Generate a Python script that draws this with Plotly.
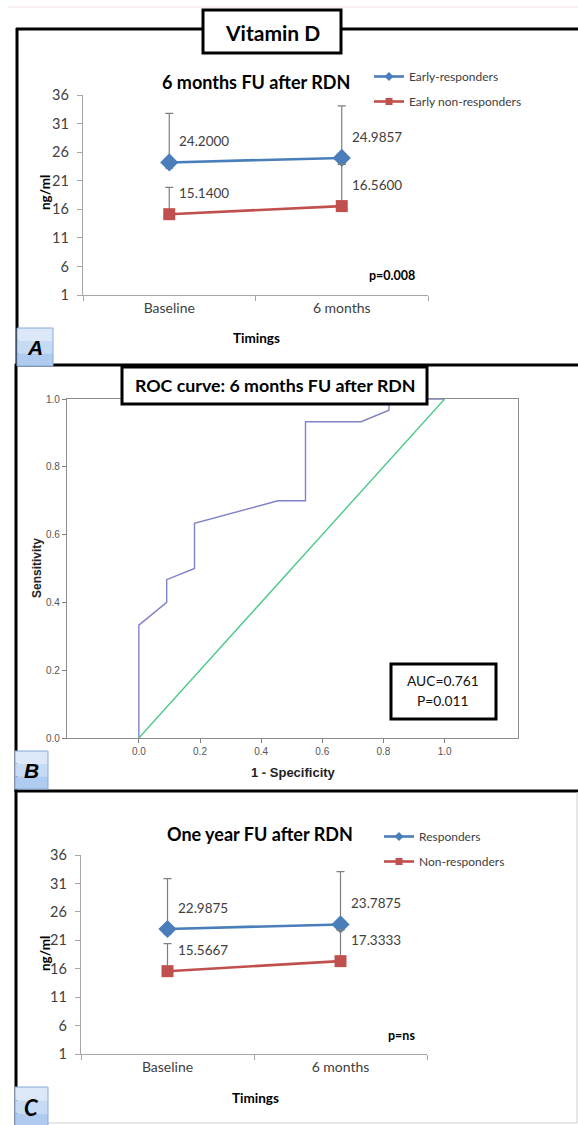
import plotly.graph_objects as go

W, H = 578, 1125

# ---------------- data ----------------
timings = ["Baseline", "6 months"]

a_resp = [24.2000, 24.9857]
a_resp_plus = [8.6, 9.1]
a_resp_minus = [1.0, 1.1]
a_non = [15.1400, 16.5600]
a_non_plus = [4.7, 7.3]
a_non_minus = [0.0, 0.0]

c_resp = [22.9875, 23.7875]
c_resp_plus = [8.85, 9.3]
c_resp_minus = [0.9, 0.95]
c_non = [15.5667, 17.3333]
c_non_plus = [4.85, 5.5]
c_non_minus = [0.0, 0.0]

roc_fpr = [0.0, 0.0, 0.091, 0.091, 0.182, 0.182, 0.455, 0.545, 0.545, 0.727, 0.818, 0.818, 1.0]
roc_tpr = [0.0, 0.333, 0.4, 0.467, 0.5, 0.633, 0.7, 0.7, 0.933, 0.933, 0.967, 1.0, 1.0]
ref_x = [0.0, 1.0]
ref_y = [0.0, 1.0]

vit_ticks = [1, 6, 11, 16, 21, 26, 31, 36]
roc_ticks = [0.0, 0.2, 0.4, 0.6, 0.8, 1.0]


def X(px):
    return px / W


def Y(py):
    return 1 - py / H


BLUE = "#4a7ebb"
RED = "#c0504d"
GRAY_TXT = "#404040"
CAL = "Lato"
ARIAL = "Liberation Sans"

fig = go.Figure()


def add_pair(xa, ya, legend, names, resp, rp, rm, non, npl, nm):
    specs = [(resp, rp, rm, BLUE, "diamond", 14, 7, names[0]),
             (non, npl, nm, RED, "square", 12, 7, names[1])]
    for k, (vals, plus, minus, col, sym, size, lsize, nm_) in enumerate(specs):
        fig.add_trace(go.Scatter(
            x=timings, y=vals, xaxis=xa, yaxis=ya, showlegend=False,
            mode="lines+markers",
            line=dict(color=col, width=2.6),
            marker=dict(symbol=sym, size=size, color=col),
            error_y=dict(type="data", array=plus, arrayminus=minus, color="#7f7f7f",
                         thickness=1.2, width=4),
        ))
        # legend-only entry (small marker as in the original legend)
        fig.add_trace(go.Scatter(
            x=[None], y=[None], xaxis=xa, yaxis=ya, name=nm_, legend=legend,
            legendgroup=legend + str(k), mode="lines+markers",
            line=dict(color=col, width=2.6),
            marker=dict(symbol=sym, size=lsize, color=col),
        ))
    for series in (resp, non):
        for t, v in zip(timings, series):
            fig.add_annotation(x=t, y=v, xref=xa, yref=ya, text=f"{v:.4f}",
                               showarrow=False, xanchor="left", yanchor="middle",
                               xshift=8, yshift=21,
                               font=dict(family=CAL, size=13.5, color=GRAY_TXT))


add_pair("x", "y", "legend", ["Early-responders", "Early non-responders"],
         a_resp, a_resp_plus, a_resp_minus, a_non, a_non_plus, a_non_minus)
add_pair("x3", "y3", "legend2", ["Responders", "Non-responders"],
         c_resp, c_resp_plus, c_resp_minus, c_non, c_non_plus, c_non_minus)

# ROC
fig.add_trace(go.Scatter(x=roc_fpr, y=roc_tpr, xaxis="x2", yaxis="y2", mode="lines",
                         line=dict(color="#7f82c8", width=1.4), showlegend=False,
                         cliponaxis=False))
fig.add_trace(go.Scatter(x=ref_x, y=ref_y, xaxis="x2", yaxis="y2", mode="lines",
                         line=dict(color="#4dc98a", width=1.4), showlegend=False,
                         cliponaxis=False))

vit_x = dict(type="category", categoryorder="array", categoryarray=timings,
             tickson="boundaries", ticks="outside", ticklen=5, tickcolor="#a6a6a6",
             showline=True, linecolor="#a6a6a6", linewidth=1.3, showgrid=False,
             zeroline=False, range=[-0.5, 1.5],
             tickfont=dict(family=CAL, size=14, color=GRAY_TXT))
vit_y = dict(range=[1, 36], tickvals=vit_ticks, ticks="outside", ticklen=5,
             tickcolor="#a6a6a6", showline=True, linecolor="#a6a6a6", linewidth=1.3,
             showgrid=False, zeroline=False, ticklabelstandoff=5,
             tickfont=dict(family=CAL, size=14.5, color=GRAY_TXT))
roc_common = dict(tickvals=roc_ticks, ticktext=[f"{t:.1f}" for t in roc_ticks],
                  ticks="outside", ticklen=4, tickcolor="#808080", showline=True,
                  linecolor="#8c8c8c", linewidth=1.2, mirror=True, showgrid=False,
                  zeroline=False, tickfont=dict(family=ARIAL, size=10, color="#555555"))

fig.update_layout(
    width=W, height=H, margin=dict(l=0, r=0, t=0, b=0, autoexpand=False),
    paper_bgcolor="white", plot_bgcolor="white",
    xaxis=dict(domain=[X(83), X(428)], anchor="y", automargin=False, **vit_x),
    yaxis=dict(domain=[Y(295), Y(95)], anchor="x", automargin=False, **vit_y),
    xaxis3=dict(domain=[X(81), X(427)], anchor="y3", automargin=False, **vit_x),
    yaxis3=dict(domain=[Y(1054), Y(855)], anchor="x3", automargin=False, **vit_y),
    xaxis2=dict(domain=[X(67), X(518)], anchor="y2", range=[-0.235, 1.24],
                automargin=False, **roc_common),
    yaxis2=dict(domain=[Y(738), Y(399)], anchor="x2", range=[0, 1],
                automargin=False, **roc_common),
    legend=dict(x=X(369), y=Y(62), xanchor="left", yanchor="top",
                bgcolor="rgba(0,0,0,0)", tracegroupgap=6, itemwidth=30,
                font=dict(family=CAL, size=12, color=GRAY_TXT)),
    legend2=dict(x=X(379), y=Y(822), xanchor="left", yanchor="top",
                 bgcolor="rgba(0,0,0,0)", tracegroupgap=6, itemwidth=30,
                 font=dict(family=CAL, size=12, color=GRAY_TXT)),
)

shapes = []


def line(x0, y0, x1, y1, color="black", width=3):
    shapes.append(dict(type="line", xref="paper", yref="paper", x0=X(x0), y0=Y(y0),
                       x1=X(x1), y1=Y(y1), line=dict(color=color, width=width),
                       layer="above"))


def rect(x0, y0, x1, y1, color="black", width=3, fill="white"):
    shapes.append(dict(type="rect", xref="paper", yref="paper", x0=X(x0), y0=Y(y0),
                       x1=X(x1), y1=Y(y1), line=dict(color=color, width=width),
                       fillcolor=fill, layer="above"))


# faint top rule
line(8, 7, 578, 7, color="#f6e0e0", width=1)
# panel frames
line(16, 29, 590, 29)
line(17, 28, 17, 366)
line(15, 365, 590, 365)
line(16, 364, 16, 792)
line(15, 791, 590, 791)
line(16, 790, 16, 1130)
line(577, 792, 577, 1123, color="#cfcfcf", width=1)
line(17, 1123, 577, 1123, color="#cfcfcf", width=1)
# title boxes
rect(203, 10, 341, 53)
rect(122, 367, 427, 404)
rect(391, 664, 496, 719)


def letter_box(x0, y0, x1, y1):
    h = (y1 - y0) / 3
    cols = ["#dce8f8", "#c6daf4", "#afcbef"]
    for i, c in enumerate(cols):
        shapes.append(dict(type="rect", xref="paper", yref="paper", x0=X(x0),
                           y0=Y(y0 + i * h), x1=X(x1), y1=Y(y0 + (i + 1) * h),
                           line=dict(width=0), fillcolor=c, layer="above"))
    rect(x0, y0, x1, y1, color="#86abdb", width=1, fill="rgba(0,0,0,0)")


letter_box(17, 328, 53, 366)
letter_box(15, 751, 48, 789)
letter_box(15, 1087, 48, 1127)

fig.update_layout(shapes=shapes)


def txt(x, y, s, size, family=CAL, color="black", angle=0, **kw):
    fig.add_annotation(x=X(x), y=Y(y), xref="paper", yref="paper", text=s,
                       showarrow=False, textangle=angle, xanchor="center",
                       yanchor="middle", font=dict(family=family, size=size, color=color), **kw)


txt(272, 32, "<b>Vitamin D</b>", 21)
txt(256, 82, "<b>6 months FU after RDN</b>", 18)
txt(256, 338, "<b>Timings</b>", 13.5)
txt(45, 193, "<b>ng/ml</b>", 13.5, angle=-90)
txt(392, 275, "<b>p=0.008</b>", 12.5)

txt(275, 385, "<b>ROC curve: 6 months FU after RDN</b>", 17.8)
txt(37, 568, "<b>Sensitivity</b>", 12, family=ARIAL, color="#222222", angle=-90)
txt(293, 772, "<b>1 - Specificity</b>", 13, family=ARIAL, color="#222222")
txt(443, 681, "AUC=0.761", 13.8, color="#111111")
txt(443, 701, "P=0.011", 13.8, color="#111111")

txt(260, 834, "<b>One year FU after RDN</b>", 18)
txt(255, 1098, "<b>Timings</b>", 13.5)
txt(45, 954, "<b>ng/ml</b>", 13.5, angle=-90)
txt(401, 1035, "<b>p=ns</b>", 12.5)

txt(35, 347, "<b><i>A</i></b>", 21, family=ARIAL)
txt(31.5, 770, "<b><i>B</i></b>", 21, family=ARIAL)
txt(31.5, 1107, "<b><i>C</i></b>", 22, family=CAL)

fig.write_html("out.html", config={"displayModeBar": False},
               post_script="document.body.style.margin='0px';"
                           "document.body.style.overflow='hidden';")
